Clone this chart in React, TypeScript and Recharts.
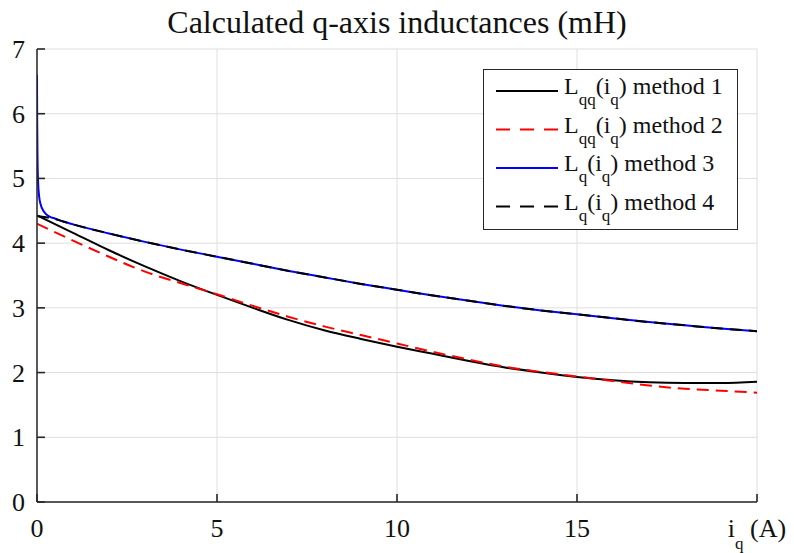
import { LineChart, Line, XAxis, YAxis, CartesianGrid } from "recharts";

// i_q values (A) on the coarse grid
const iq = [0, 1, 2, 3, 4, 5, 6, 7, 8, 9, 10, 11, 12, 13, 14, 15, 16, 17, 18, 19, 20];

// method 1: Lqq(iq), black solid
const lqqM1 = [4.43, 4.16, 3.89, 3.64, 3.41, 3.2, 3.0, 2.81, 2.65, 2.52, 2.4, 2.29, 2.18, 2.08, 2.0, 1.93, 1.88, 1.85, 1.84, 1.84, 1.86];
// method 2: Lqq(iq), red dashed
const lqqM2 = [4.3, 4.04, 3.79, 3.56, 3.38, 3.21, 3.03, 2.86, 2.71, 2.58, 2.45, 2.32, 2.2, 2.09, 2.01, 1.94, 1.87, 1.8, 1.75, 1.72, 1.69];

// method 3: Lq(iq), blue - steep start near zero
const iqM3 = [0, 0.005, 0.015, 0.03, 0.06, 0.1, 0.2, 0.35, 0.5, 0.75, 1, 2, 3, 4, 5, 6, 7, 8, 9, 10, 11, 12, 13, 14, 15, 16, 17, 18, 19, 20];
const lqM3 = [6.6, 5.9, 5.3, 4.95, 4.72, 4.6, 4.48, 4.41, 4.38, 4.33, 4.29, 4.15, 4.02, 3.9, 3.79, 3.68, 3.57, 3.47, 3.37, 3.28, 3.19, 3.11, 3.03, 2.96, 2.9, 2.84, 2.78, 2.73, 2.68, 2.64];

// method 4: Lq(iq), black dashed
const iqM4 = [0, 0.25, 0.5, 0.75, 1, 2, 3, 4, 5, 6, 7, 8, 9, 10, 11, 12, 13, 14, 15, 16, 17, 18, 19, 20];
const lqM4 = [4.42, 4.4, 4.37, 4.33, 4.29, 4.15, 4.02, 3.9, 3.79, 3.68, 3.57, 3.47, 3.37, 3.28, 3.19, 3.11, 3.03, 2.96, 2.9, 2.84, 2.78, 2.73, 2.68, 2.64];

const xTicks = [0, 5, 10, 15, 20];
const yTicks = [0, 1, 2, 3, 4, 5, 6, 7];

const toPoints = (xs: number[], ys: number[]) => xs.map((x, i) => ({ iq: x, L: ys[i] }));

const series = [
  { key: "m1", sub: "qq", method: 1, color: "#000000", dash: undefined, data: toPoints(iq, lqqM1) },
  { key: "m2", sub: "qq", method: 2, color: "#ff0000", dash: "12 7", data: toPoints(iq, lqqM2) },
  { key: "m3", sub: "q", method: 3, color: "#0000ff", dash: undefined, data: toPoints(iqM3, lqM3) },
  { key: "m4", sub: "q", method: 4, color: "#000000", dash: "12 7", data: toPoints(iqM4, lqM4) },
];

const FONT = "'Liberation Serif', 'Times New Roman', serif";
const AXIS = "#262626";
const TICK_LEN = 8;

const BottomTick = ({ x, y, payload }: any) => {
  const v = payload.value;
  return (
    <g>
      <path d={`M${x},${y}V${y - TICK_LEN}`} stroke={AXIS} strokeWidth={1.6} fill="none" />
      {v === 20 ? (
        <text x={x} y={y + 35} textAnchor="middle" fontFamily={FONT} fontSize={26} fill="#111">
          i
          <tspan fontSize={17} dy={12}>q</tspan>
          <tspan dy={-12}> (A)</tspan>
        </text>
      ) : (
        <text x={x} y={y + 35} textAnchor="middle" fontFamily={FONT} fontSize={26} fill="#111">
          {v}
        </text>
      )}
    </g>
  );
};

const LeftTick = ({ x, y, payload }: any) => (
  <g>
    <path d={`M${x},${y}H${x + TICK_LEN}`} stroke={AXIS} strokeWidth={1.6} fill="none" />
    <text x={x - 12} y={y + 9} textAnchor="end" fontFamily={FONT} fontSize={26} fill="#111">
      {payload.value}
    </text>
  </g>
);

const TopTick = ({ x, y }: any) => (
  <path d={`M${x},${y}V${y + TICK_LEN}`} stroke={AXIS} strokeWidth={1.6} fill="none" />
);

const RightTick = ({ x, y }: any) => (
  <path d={`M${x},${y}H${x - TICK_LEN}`} stroke={AXIS} strokeWidth={1.6} fill="none" />
);

function LegendBox() {
  return (
    <div
      style={{
        position: "absolute",
        left: 483,
        top: 69,
        width: 255,
        height: 161,
        boxSizing: "border-box",
        border: `1.5px solid ${AXIS}`,
        background: "#fff",
      }}
    >
      <svg width={252} height={158} style={{ display: "block" }}>
        {series.map((s, i) => {
          const base = 24 + 38.5 * i;
          return (
            <g key={s.key}>
              <line
                x1={12}
                x2={74}
                y1={base - 3}
                y2={base - 3}
                stroke={s.color}
                strokeWidth={2}
                strokeDasharray={s.dash ? "14 10" : undefined}
              />
              <text x={80} y={base} fontFamily={FONT} fontSize={24} fill="#111">
                L
                <tspan fontSize={17} dy={11}>{s.sub}</tspan>
                <tspan dy={-11}>(i</tspan>
                <tspan fontSize={17} dy={11}>q</tspan>
                <tspan dy={-11}>) method {s.method}</tspan>
              </text>
            </g>
          );
        })}
      </svg>
    </div>
  );
}

export default function App() {
  return (
    <div style={{ position: "absolute", left: 0, top: 0, width: 794, height: 553, background: "#fff" }}>
      <div
        style={{
          position: "absolute",
          left: 0,
          top: 6,
          width: 794,
          textAlign: "center",
          fontFamily: FONT,
          fontSize: 32,
          lineHeight: "32px",
          color: "#111",
        }}
      >
        Calculated q-axis inductances (mH)
      </div>
      <LineChart width={794} height={553} margin={{ top: 49, right: 37, bottom: 0, left: 0 }}>
        <CartesianGrid stroke="#dedede" strokeWidth={1} />
        <XAxis
          dataKey="iq"
          type="number"
          domain={[0, 20]}
          ticks={xTicks}
          allowDataOverflow
          height={51}
          tickSize={0}
          tickMargin={0}
          tickLine={false}
          axisLine={{ stroke: AXIS, strokeWidth: 1.5 }}
          tick={<BottomTick />}
          interval={0}
        />
        <XAxis
          xAxisId="top"
          orientation="top"
          dataKey="iq"
          type="number"
          domain={[0, 20]}
          ticks={xTicks}
          allowDataOverflow
          height={0}
          tickSize={0}
          tickMargin={0}
          tickLine={false}
          axisLine={{ stroke: AXIS, strokeWidth: 1.5 }}
          tick={<TopTick />}
          interval={0}
        />
        <YAxis
          type="number"
          domain={[0, 7]}
          ticks={yTicks}
          allowDataOverflow
          width={37}
          tickSize={0}
          tickMargin={0}
          tickLine={false}
          axisLine={{ stroke: AXIS, strokeWidth: 1.5 }}
          tick={<LeftTick />}
          interval={0}
        />
        <YAxis
          yAxisId="right"
          orientation="right"
          type="number"
          domain={[0, 7]}
          ticks={yTicks}
          allowDataOverflow
          width={0}
          tickSize={0}
          tickMargin={0}
          tickLine={false}
          axisLine={{ stroke: AXIS, strokeWidth: 1.5 }}
          tick={<RightTick />}
          interval={0}
        />
        {series.map((s) => (
          <Line
            key={s.key}
            data={s.data}
            dataKey="L"
            type="monotone"
            stroke={s.color}
            strokeWidth={2}
            strokeDasharray={s.dash}
            dot={false}
            activeDot={false}
            isAnimationActive={false}
          />
        ))}
      </LineChart>
      <LegendBox />
    </div>
  );
}
